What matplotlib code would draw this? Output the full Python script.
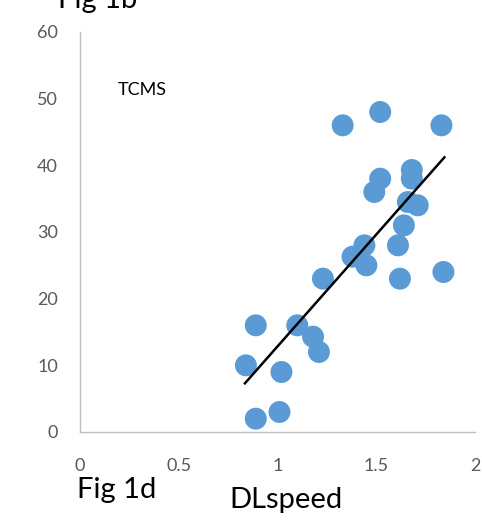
import matplotlib
matplotlib.use("Agg")
import matplotlib.pyplot as plt

# DLspeed vs TCMS
dl_speed = [1.33, 1.52, 1.83, 1.52, 1.49, 1.68, 1.68, 1.66, 1.71, 1.64,
            1.61, 1.44, 1.38, 1.45, 1.62, 1.84, 1.23, 0.89, 1.10, 1.18,
            1.21, 0.84, 1.02, 0.89, 1.01]
tcms = [46, 48, 46, 38, 36, 39.3, 38, 34.5, 34, 31,
        28, 28, 26.3, 25, 23, 24, 23, 16, 16, 14.3,
        12, 10, 9, 2, 3]

# linear trendline end points
trend_x = [0.835, 1.845]
trend_y = [7.3, 41.2]

x_ticks = [0, 0.5, 1, 1.5, 2]
y_ticks = [0, 10, 20, 30, 40, 50, 60]

BLUE = "#5B9BD5"
GRAY = "#595959"
FONT = ["Lato", "DejaVu Sans"]

fig = plt.figure(figsize=(4.82, 5.29), dpi=100)
ax = fig.add_axes([80 / 482, 1 - 432 / 529, 395 / 482, 400 / 529])

ax.scatter(dl_speed, tcms, s=250, color=BLUE, edgecolors="none", zorder=2)
ax.plot(trend_x, trend_y, color="black", linewidth=1.8, zorder=3)

ax.set_xlim(0, 2)
ax.set_ylim(0, 60)
ax.set_xticks(x_ticks)
ax.set_xticklabels([f"{t:g}" for t in x_ticks])
ax.set_yticks(y_ticks)
ax.set_yticklabels([str(t) for t in y_ticks])
ax.tick_params(axis="both", length=0, colors=GRAY, labelsize=13)
ax.tick_params(axis="x", pad=19)
ax.tick_params(axis="y", pad=16)
for lab in ax.get_xticklabels() + ax.get_yticklabels():
    lab.set_family(FONT)

for side in ("top", "right"):
    ax.spines[side].set_visible(False)
for side in ("left", "bottom"):
    ax.spines[side].set_color("#BFBFBF")
    ax.spines[side].set_linewidth(1.0)

fig.text(142 / 482, 1 - 90 / 529, "TCMS", ha="center", va="center",
         fontsize=13, family=FONT, color="black")
fig.text(117 / 482, 1 - 498 / 529, "Fig 1d", ha="center", va="baseline",
         fontsize=21, family=FONT, color="black")
fig.text(286 / 482, 1 - 508 / 529, "DLspeed", ha="center", va="baseline",
         fontsize=21, family=FONT, color="black")
# top label, cut by the image border as in the source
fig.text(98 / 482, 1 - 8 / 529, "Fig 1b", ha="center", va="baseline",
         fontsize=21, family=FONT, color="black")

fig.savefig("out.png", dpi=100)
